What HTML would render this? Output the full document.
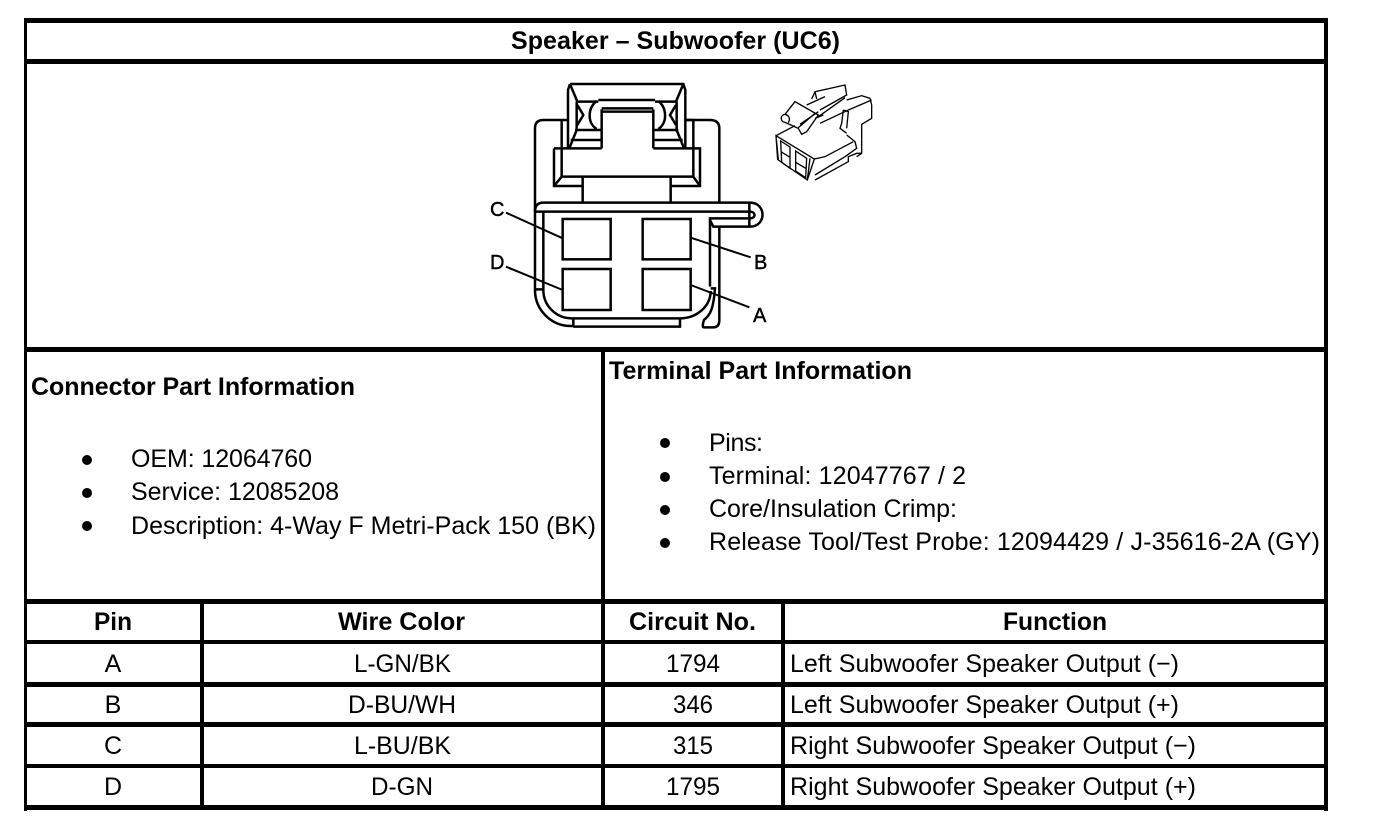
<!DOCTYPE html>
<html><head><meta charset="utf-8"><style>
html,body{margin:0;padding:0;background:#fff}
svg{display:block}
text{font-family:"Liberation Sans",Arial,sans-serif;font-size:25px;fill:#000}
.b{font-weight:bold}
.c{fill:none;stroke:#000;stroke-width:7.5;stroke-linejoin:miter}
.i{fill:none;stroke:#000;stroke-width:4}
</style></head><body>
<svg width="1376" height="838" viewBox="0 0 1376 838" xmlns="http://www.w3.org/2000/svg">
<rect width="1376" height="838" fill="#fff"/>
<!-- frame -->
<g fill="#000">
<rect x="24" y="18" width="1304" height="5"/>
<rect x="24" y="59" width="1304" height="5"/>
<rect x="24" y="347" width="1304" height="5"/>
<rect x="24" y="599" width="1304" height="5"/>
<rect x="24" y="640" width="1304" height="4"/>
<rect x="24" y="682" width="1304" height="5"/>
<rect x="24" y="722" width="1304" height="5"/>
<rect x="24" y="764" width="1304" height="4"/>
<rect x="24" y="805" width="1304" height="5"/>
<rect x="24" y="18" width="3" height="793"/>
<rect x="1324" y="18" width="4" height="793"/>
<rect x="601" y="347" width="4" height="463"/>
<rect x="200" y="599" width="4" height="211"/>
<rect x="781" y="599" width="4" height="211"/>
</g>
<!-- title -->
<text class="b" x="511" y="49" textLength="329" lengthAdjust="spacing">Speaker – Subwoofer (UC6)</text>
<!-- main connector -->
<g transform="translate(480 70) scale(.33333)">
<path class="c" d="M270 42H610L616 60V235M270 42L264 60V235M270 42L292 95M610 42L588 95M292 95H355M525 95H588"/>
<path class="c" d="M355 90H525M365 125H520M365 115H520M365 118V235M520 118V235"/>
<path class="c" d="M290 95V180L268 235M590 95V180L612 235M285 180H362M595 180H520M272 210H365M608 210H520"/>
<path class="c" d="M292 105L310 135L292 165M588 105L570 135L588 165M350 93C322 115 322 160 350 177M535 93C562 115 562 160 535 177"/>
<path class="c" d="M222 235H365M520 235H660V348H575M222 235V348H305M245 235V320H640V235M245 320L222 348M640 320L660 348"/>
<path class="c" d="M308 320V398M572 320V398"/>
<path class="c" d="M264 150H190Q165 150 165 175V660A108 108 0 0 0 273 768H280V745M616 150H690Q718 150 718 175V400M245 150V235"/>
<path class="c" d="M616 150H640V235"/>
<path class="c" d="M165 425Q165 398 190 398H810C860 398 860 470 810 470H700L690 450M165 425H810C828 425 828 445 810 445H690V650M718 470V750Q718 772 700 772H672Q665 772 672 750C690 735 700 720 705 655H692"/>
<path class="c" d="M808 398V470"/>
<path class="c" d="M190 425V660A85 85 0 0 0 275 745H600A92 82 0 0 0 692 663M165 658H190M280 770H600V745"/>
<rect class="c" x="248" y="447" width="144" height="121"/>
<rect class="c" x="488" y="447" width="144" height="121"/>
<rect class="c" x="248" y="597" width="144" height="123"/>
<rect class="c" x="488" y="597" width="144" height="123"/>
<path class="c" d="M78 428L248 505M78 590L248 660M632 503L812 562M632 645L808 712" style="stroke-width:6"/>
</g>
<text class="b" x="490" y="216" style="font-size:20px;font-weight:normal;stroke:#000;stroke-width:.4">C</text>
<text x="490" y="269" style="font-size:20px;stroke:#000;stroke-width:.4">D</text>
<text x="754" y="269" style="font-size:20px;stroke:#000;stroke-width:.4">B</text>
<text x="753" y="322" style="font-size:20px;stroke:#000;stroke-width:.4">A</text>
<!-- iso connector -->
<g transform="translate(765 85) scale(.33333)">
<path class="i" d="M33 152L148 222L127 285L40 225ZM33 152L90 122M135 220L127 285M33 152L38 225"/>
<path class="i" d="M47 168L75 186V250L50 232ZM48 200L75 217M92 198L125 220L122 278L92 258ZM92 232L122 250"/>
<path class="i" d="M60 88L90 50L160 90L125 140L110 148L100 130L60 112M60 88C45 90 45 110 60 112M60 88C70 90 78 100 70 113M100 128L150 85M105 118L160 80"/>
<path class="i" d="M140 42L150 20L240 0L245 30L165 75M150 20L155 42M125 60L180 35M160 95L240 38M165 115L250 75M150 100L175 90"/>
<path class="i" d="M245 45L290 32L315 40L320 60V100L290 118V205L275 215M250 75L320 45M235 75L230 115L225 130L245 145M235 75L250 80L245 130"/>
<path class="i" d="M245 150L270 170L275 190L240 215L150 270M148 222L180 215L265 170M150 285L250 230V215L275 205H290"/>
</g>
<!-- connector info -->
<text class="b" x="31" y="395" textLength="324" lengthAdjust="spacing">Connector Part Information</text>
<g>
<circle cx="87" cy="460" r="5"/><circle cx="87" cy="493" r="5"/><circle cx="87" cy="526" r="5"/>
<text x="131" y="467" textLength="181" lengthAdjust="spacing">OEM: 12064760</text>
<text x="131" y="500" textLength="208" lengthAdjust="spacing">Service: 12085208</text>
<text x="131" y="534" textLength="465" lengthAdjust="spacing">Description: 4-Way F Metri-Pack 150 (BK)</text>
</g>
<!-- terminal info -->
<text class="b" x="609" y="379" textLength="303" lengthAdjust="spacing">Terminal Part Information</text>
<g>
<circle cx="665" cy="443" r="5"/><circle cx="665" cy="477" r="5"/><circle cx="665" cy="510" r="5"/><circle cx="665" cy="543" r="5"/>
<text x="709" y="451" textLength="54" lengthAdjust="spacing">Pins:</text>
<text x="709" y="484" textLength="257" lengthAdjust="spacing">Terminal: 12047767 / 2</text>
<text x="709" y="517" textLength="248" lengthAdjust="spacing">Core/Insulation Crimp:</text>
<text x="709" y="550" textLength="611" lengthAdjust="spacing">Release Tool/Test Probe: 12094429 / J-35616-2A (GY)</text>
</g>
<!-- table -->
<text class="b" x="94" y="630" textLength="38" lengthAdjust="spacingAndGlyphs">Pin</text>
<text class="b" x="338" y="630" textLength="127" lengthAdjust="spacingAndGlyphs">Wire Color</text>
<text class="b" x="629" y="630" textLength="127" lengthAdjust="spacingAndGlyphs">Circuit No.</text>
<text class="b" x="1003" y="630" textLength="104" lengthAdjust="spacingAndGlyphs">Function</text>
<g text-anchor="middle">
<text x="113" y="672">A</text><text x="113" y="713">B</text><text x="113" y="754">C</text><text x="113" y="795">D</text>
</g>
<text x="354" y="672" textLength="97" lengthAdjust="spacingAndGlyphs">L-GN/BK</text>
<text x="348" y="713" textLength="108" lengthAdjust="spacingAndGlyphs">D-BU/WH</text>
<text x="354" y="754" textLength="97" lengthAdjust="spacingAndGlyphs">L-BU/BK</text>
<text x="371" y="795" textLength="62" lengthAdjust="spacingAndGlyphs">D-GN</text>
<text x="666" y="672" textLength="54" lengthAdjust="spacingAndGlyphs">1794</text>
<text x="673" y="713" textLength="40" lengthAdjust="spacingAndGlyphs">346</text>
<text x="673" y="754" textLength="40" lengthAdjust="spacingAndGlyphs">315</text>
<text x="666" y="795" textLength="54" lengthAdjust="spacingAndGlyphs">1795</text>
<text x="790" y="672" textLength="389" lengthAdjust="spacing">Left Subwoofer Speaker Output (−)</text>
<text x="790" y="713" textLength="389" lengthAdjust="spacing">Left Subwoofer Speaker Output (+)</text>
<text x="790" y="754" textLength="406" lengthAdjust="spacing">Right Subwoofer Speaker Output (−)</text>
<text x="790" y="795" textLength="406" lengthAdjust="spacing">Right Subwoofer Speaker Output (+)</text>
</svg>
</body></html>
